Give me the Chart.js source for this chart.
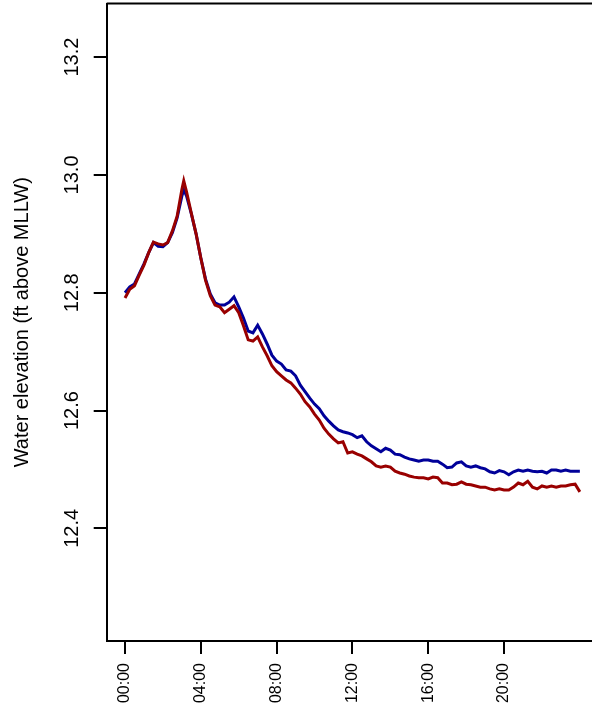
<!DOCTYPE html>
<html>
<head>
<meta charset="utf-8">
<script src="https://cdn.jsdelivr.net/npm/chart.js@4"></script>
<style>
  body { margin: 0; background: #fff; overflow: hidden; }
</style>
</head>
<body>
<canvas id="elevChart" width="592" height="715"></canvas>
<script>
// hours since midnight
const hours = [0, 0.25, 0.5, 0.75, 1, 1.25, 1.5, 1.75, 2, 2.25, 2.5, 2.75, 3, 3.1, 3.25, 3.5, 3.75,
  4, 4.25, 4.5, 4.75, 5, 5.25, 5.5, 5.75, 6, 6.25, 6.5, 6.75, 7, 7.25, 7.5, 7.75,
  8, 8.25, 8.5, 8.75, 9, 9.25, 9.5, 9.75, 10, 10.25, 10.5, 10.75, 11, 11.25, 11.5, 11.75,
  12, 12.25, 12.5, 12.75, 13, 13.25, 13.5, 13.75, 14, 14.25, 14.5, 14.75, 15, 15.25, 15.5, 15.75,
  16, 16.25, 16.5, 16.75, 17, 17.25, 17.5, 17.75, 18, 18.25, 18.5, 18.75, 19, 19.25, 19.5, 19.75,
  20, 20.25, 20.5, 20.75, 21, 21.25, 21.5, 21.75, 22, 22.25, 22.5, 22.75, 23, 23.25, 23.5, 23.75, 24];

const blueSeries = [12.800, 12.810, 12.815, 12.832, 12.849, 12.868, 12.885, 12.879, 12.878, 12.885, 12.902, 12.927, 12.964, 12.975, 12.964, 12.934, 12.900,
  12.859, 12.823, 12.798, 12.783, 12.779, 12.779, 12.784, 12.793, 12.776, 12.757, 12.735, 12.732, 12.745, 12.730, 12.713, 12.694,
  12.684, 12.679, 12.669, 12.667, 12.659, 12.643, 12.632, 12.621, 12.611, 12.603, 12.591, 12.582, 12.574, 12.567, 12.564, 12.562,
  12.559, 12.554, 12.557, 12.547, 12.540, 12.535, 12.530, 12.536, 12.533, 12.526, 12.525, 12.521, 12.518, 12.516, 12.514, 12.516,
  12.516, 12.514, 12.514, 12.509, 12.503, 12.504, 12.511, 12.513, 12.506, 12.504, 12.506, 12.503, 12.501, 12.496, 12.494, 12.498,
  12.496, 12.491, 12.496, 12.499, 12.497, 12.499, 12.497, 12.496, 12.497, 12.494, 12.499, 12.499, 12.497, 12.499, 12.497, 12.497, 12.497];

const redSeries = [12.791, 12.806, 12.812, 12.830, 12.847, 12.868, 12.886, 12.883, 12.881, 12.885, 12.905, 12.930, 12.975, 12.990, 12.971, 12.935, 12.900,
  12.859, 12.821, 12.795, 12.779, 12.776, 12.766, 12.772, 12.778, 12.766, 12.744, 12.720, 12.718, 12.725, 12.708, 12.693, 12.676,
  12.666, 12.659, 12.652, 12.647, 12.638, 12.628, 12.615, 12.606, 12.594, 12.584, 12.570, 12.560, 12.552, 12.545, 12.547, 12.528,
  12.530, 12.526, 12.523, 12.518, 12.513, 12.506, 12.504, 12.506, 12.504, 12.497, 12.494, 12.492, 12.489, 12.487, 12.486, 12.486,
  12.484, 12.487, 12.486, 12.477, 12.477, 12.474, 12.475, 12.479, 12.475, 12.474, 12.472, 12.470, 12.470, 12.467, 12.465, 12.467,
  12.465, 12.465, 12.470, 12.477, 12.474, 12.480, 12.470, 12.467, 12.472, 12.470, 12.472, 12.470, 12.472, 12.472, 12.474, 12.475, 12.462];

const xTicks = [0, 4, 8, 12, 16, 20];
const yTicks = [12.4, 12.6, 12.8, 13.0, 13.2];

const FONT = '"Liberation Sans", Arial, sans-serif';

function toPoints(vals) {
  return hours.map((h, i) => ({ x: h, y: vals[i] }));
}

// frame on top + rotated y tick labels (R style)
const framePlugin = {
  id: 'frame',
  afterDraw(chart) {
    const ctx = chart.ctx;
    const a = chart.chartArea;
    const yScale = chart.scales.y;
    ctx.save();
    ctx.strokeStyle = '#000';
    ctx.lineWidth = 2;
    ctx.beginPath();
    ctx.moveTo(a.left, a.top);
    ctx.lineTo(chart.width, a.top);
    ctx.stroke();

    ctx.fillStyle = '#000';
    ctx.font = '20px ' + FONT;
    ctx.textAlign = 'center';
    ctx.textBaseline = 'middle';
    yTicks.forEach(v => {
      const py = yScale.getPixelForValue(v);
      ctx.save();
      ctx.translate(72, py);
      ctx.rotate(-Math.PI / 2);
      ctx.fillText(v.toFixed(1), 0, 0);
      ctx.restore();
    });
    ctx.restore();
  }
};

const ctx = document.getElementById('elevChart').getContext('2d');
new Chart(ctx, {
  type: 'line',
  data: {
    datasets: [
      {
        label: 'red',
        data: toPoints(redSeries),
        borderColor: '#990000',
        borderWidth: 3,
        pointRadius: 0,
        tension: 0,
        order: 0
      },
      {
        label: 'blue',
        data: toPoints(blueSeries),
        borderColor: '#000099',
        borderWidth: 3,
        pointRadius: 0,
        tension: 0,
        order: 1
      }
    ]
  },
  options: {
    responsive: false,
    animation: false,
    layout: { padding: { top: 3.5, left: 0, right: 0, bottom: 0 } },
    plugins: {
      legend: { display: false },
      tooltip: { enabled: false }
    },
    scales: {
      x: {
        type: 'linear',
        min: -0.966,
        max: 24.64,
        afterBuildTicks: scale => { scale.ticks = xTicks.map(v => ({ value: v })); },
        afterFit: scale => { scale.height = 74; },
        border: { display: true, color: '#000', width: 2 },
        grid: { drawOnChartArea: false, drawTicks: true, tickLength: 13, color: '#000', lineWidth: 2 },
        ticks: {
          minRotation: 90,
          maxRotation: 90,
          padding: 9,
          color: '#000',
          font: { family: FONT, size: 16 },
          callback: v => String(v).padStart(2, '0') + ':00'
        }
      },
      y: {
        min: 12.2088,
        max: 13.291,
        afterBuildTicks: scale => { scale.ticks = yTicks.map(v => ({ value: v })); },
        afterFit: scale => { scale.width = 106.7; },
        border: { display: true, color: '#000', width: 2 },
        grid: { drawOnChartArea: false, drawTicks: true, tickLength: 13, color: '#000', lineWidth: 2 },
        ticks: { display: false },
        title: {
          display: true,
          text: 'Water elevation (ft above MLLW)',
          color: '#000',
          font: { family: FONT, size: 20 },
          padding: { top: 10, bottom: 4 }
        }
      }
    }
  },
  plugins: [framePlugin]
});
</script>
</body>
</html>
